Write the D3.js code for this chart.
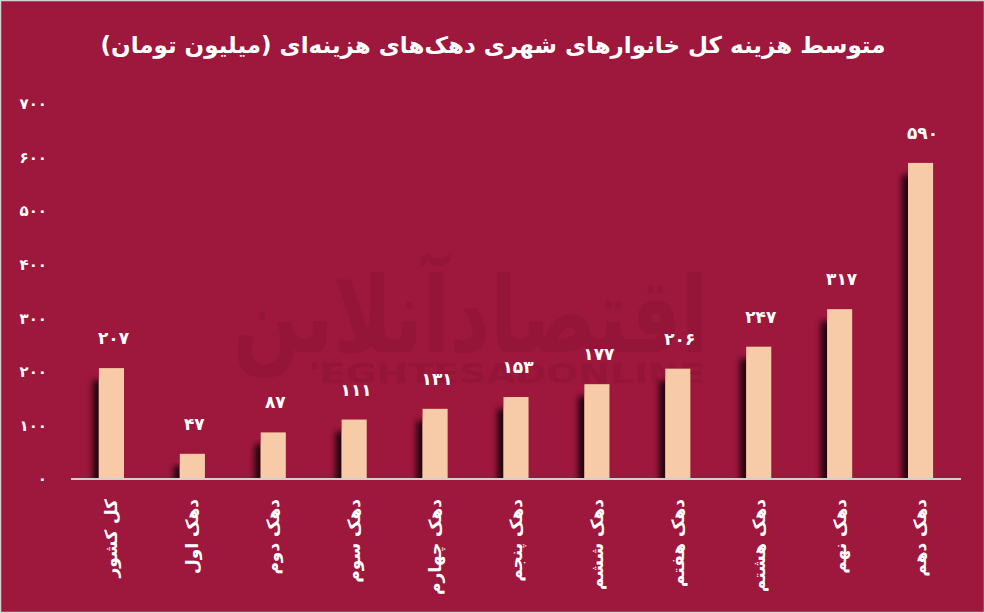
<!DOCTYPE html>
<html><head><meta charset="utf-8">
<script src="https://cdn.jsdelivr.net/npm/d3@7"></script>
<style>
html,body{margin:0;padding:0;background:#9e173c;}
svg{display:block;}
text{font-family:"DejaVu Sans",sans-serif;}
</style></head>
<body>
<svg id="c" width="985" height="613"></svg>
<script>
const categories = ["کل کشور","دهک اول","دهک دوم","دهک سوم","دهک چهارم","دهک پنجم","دهک ششم","دهک هفتم","دهک هشتم","دهک نهم","دهک دهم"];
const values = [207,47,87,111,131,153,177,206,247,317,590];
const yTicks = [0,100,200,300,400,500,600,700];
const title = "متوسط هزینه کل خانوارهای شهری دهک‌های هزینه‌ای (میلیون تومان)";

const fa = n => String(n).replace(/\d/g, d => "۰۱۲۳۴۵۶۷۸۹"[d]);

const W = 985, H = 613;
const svg = d3.select("#c");
const bg = "#9e173c";

const x = d3.scaleBand().domain(categories).range([71,961]).paddingInner(0.69).paddingOuter(0.345);
const y = d3.scaleLinear().domain([0,700]).range([479,104]);

const defs = svg.append("defs");
const f = defs.append("filter").attr("id","sh").attr("x","-60%").attr("y","-10%").attr("width","200%").attr("height","130%");
f.append("feGaussianBlur").attr("in","SourceAlpha").attr("stdDeviation",3).attr("result","b");
f.append("feOffset").attr("in","b").attr("dx",-6).attr("dy",12).attr("result","o");
f.append("feComponentTransfer").attr("in","o").attr("result","o2")
  .append("feFuncA").attr("type","linear").attr("slope",0.8);
const m = f.append("feMerge");
m.append("feMergeNode").attr("in","o2");
m.append("feMergeNode").attr("in","SourceGraphic");
defs.append("clipPath").attr("id","plotclip").append("rect")
  .attr("x",60).attr("y",90).attr("width",910).attr("height",y(0)-90);

svg.append("rect").attr("x",0.5).attr("y",0.5).attr("width",W-1).attr("height",H-1)
  .attr("fill",bg).attr("stroke","#d4d4d4").attr("stroke-width",1.5);

// watermark (logo)
const wm = svg.append("g").attr("fill","#8e1434").attr("opacity",0.6);
wm.append("text").attr("x",233).attr("y",352)
  .attr("font-size",105).attr("font-weight","bold")
  .attr("textLength",475).attr("lengthAdjust","spacingAndGlyphs")
  .text("اقتصادآنلاین");
wm.append("text").attr("x",320).attr("y",383)
  .attr("font-size",27).attr("font-weight","bold")
  .attr("textLength",385).attr("lengthAdjust","spacingAndGlyphs")
  .text("EGHTESADONLINE");

// title
svg.append("text").attr("x",493).attr("y",53).attr("text-anchor","middle")
  .attr("font-size",23).attr("font-weight","bold").attr("fill","#fff").text(title);

// y labels
const yAxis = d3.axisLeft(y).tickValues(yTicks).tickFormat(fa).tickSize(0).tickPadding(0);
const ya = svg.append("g").attr("transform","translate(47,0)").call(yAxis);
ya.select(".domain").remove();
ya.selectAll("text").attr("fill","#fff").attr("font-size",15).attr("font-weight","bold")
  .attr("letter-spacing",4).attr("font-family","DejaVu Sans");

// bars
svg.append("g").attr("clip-path","url(#plotclip)")
  .selectAll("rect").data(values).join("rect")
  .attr("x",(d,i)=>x(categories[i])).attr("width",x.bandwidth())
  .attr("y",d=>y(d)).attr("height",d=>y(0)-y(d))
  .attr("fill","#f7caa8").attr("filter","url(#sh)");

// baseline
svg.append("line").attr("x1",71).attr("x2",961).attr("y1",y(0)).attr("y2",y(0))
  .attr("stroke","#d0d0d0").attr("stroke-width",2);

// value labels
svg.append("g").selectAll("text").data(values).join("text")
  .attr("x",(d,i)=>x(categories[i])+x.bandwidth()/2+2).attr("y",d=>y(d)-24)
  .attr("text-anchor","middle").attr("font-size",17).attr("font-weight","bold")
  .attr("letter-spacing",4).attr("fill","#fff").text(d=>fa(d));

// x labels
const xAxis = d3.axisBottom(x).tickSize(0).tickPadding(0);
const xa = svg.append("g").attr("transform",`translate(0,${y(0)})`).call(xAxis);
xa.select(".domain").remove();
xa.selectAll(".tick text")
  .attr("transform","translate(0,20) rotate(-90)")
  .attr("x",0).attr("y",0).attr("dy","0.35em")
  .attr("text-anchor","end").attr("fill","#fff").attr("font-size",17).attr("font-weight","bold")
  .attr("font-family","DejaVu Sans");
</script>
</body></html>
